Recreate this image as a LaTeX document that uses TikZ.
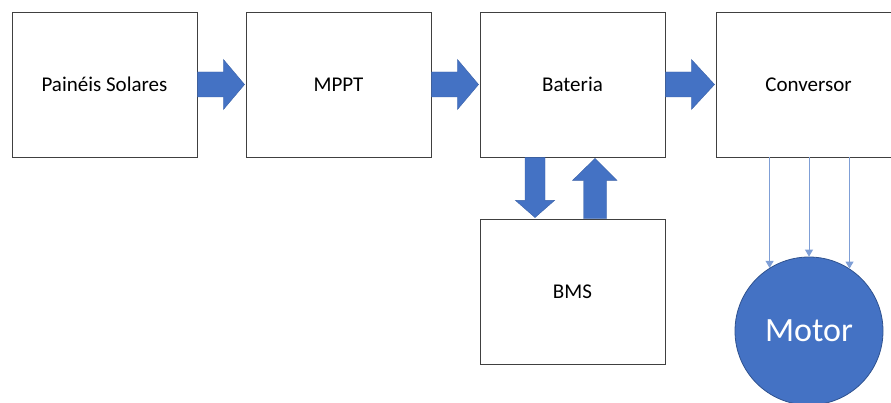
\documentclass[tikz,border=0pt]{standalone}
\usepackage{fontspec}
\setmainfont{Carlito}
\usetikzlibrary{calc,arrows.meta}
\definecolor{accent}{HTML}{4472C4}
\definecolor{accentdark}{HTML}{2F528F}
\definecolor{wire}{HTML}{7F9FD6}
\definecolor{frame}{HTML}{404040}
\tikzset{
  stagebox/.style={draw=frame, line width=0.9pt, fill=white, minimum width=185pt,
    minimum height=145pt, inner sep=0pt, font=\fontsize{21}{24}\selectfont},
  bigarrow/.style={fill=accent, draw=accent!85!black, line width=0.4pt},
  wirearrow/.style={draw=wire, line width=0.9pt, -{Triangle[width=8pt,length=7pt]}},
  motorshape/.style={circle, fill=accent, draw=accentdark, line width=0.8pt,
    minimum size=148pt, inner sep=0pt, text=white, font=\fontsize{34}{38}\selectfont},
}
% horizontal block arrow between two stages
\newcommand\flowright[2]{%
  \path let \p1=(#1.east), \p2=(#2.west) in
    [bigarrow] (\x1,\y1+12.5pt) -- (\x1+26pt,\y1+12.5pt) -- (\x1+26pt,\y1+25pt)
    -- (\x2-1pt,\y1) -- (\x1+26pt,\y1-25pt) -- (\x1+26pt,\y1-12.5pt)
    -- (\x1,\y1-12.5pt) -- cycle;}
\begin{document}
\begin{tikzpicture}[x=1pt,y=-1pt]
\useasboundingbox (0,0) rectangle (891,403);
\node[stagebox] (pv)   at (104.5,84.5) {Painéis Solares};
\node[stagebox] (mppt) at (338.5,84.5) {MPPT};
\node[stagebox] (bat)  at (572.5,84.5) {Bateria};
\node[stagebox] (conv) at (808.5,84.5) {Conversor};
\node[stagebox] (bms)  at (572.5,291.5) {BMS};
\node[motorshape] (motor) at (809,331) {Motor};

\flowright{pv}{mppt}
\flowright{mppt}{bat}
\flowright{bat}{conv}

% charge flow Bateria -> BMS
\path let \p1=(bat.south), \p2=(bms.north) in
  [bigarrow] (\x1-47.5pt,\y1) -- (\x1-27.5pt,\y1) -- (\x1-27.5pt,\y1-43pt)
  -- (\x1-18pt,\y1-43pt) -- (\x1-37.5pt,\y2+1pt) -- (\x1-57pt,\y1-43pt)
  -- (\x1-47.5pt,\y1-43pt) -- cycle;
% return flow BMS -> Bateria
\path let \p1=(bms.north), \p2=(bat.south) in
  [bigarrow] (\x1+11pt,\y1) -- (\x1+34pt,\y1) -- (\x1+34pt,\y2-23pt)
  -- (\x1+44.5pt,\y2-23pt) -- (\x1+22.5pt,\y2-1pt) -- (\x1,\y2-23pt)
  -- (\x1+11pt,\y2-23pt) -- cycle;

% three-phase lines to the motor
\draw[wirearrow] (motor.122.7 |- conv.south) -- (motor.122.7);
\draw[wirearrow] (motor.north |- conv.south) -- (motor.north);
\draw[wirearrow] (motor.57.3 |- conv.south) -- (motor.57.3);
\end{tikzpicture}
\end{document}
